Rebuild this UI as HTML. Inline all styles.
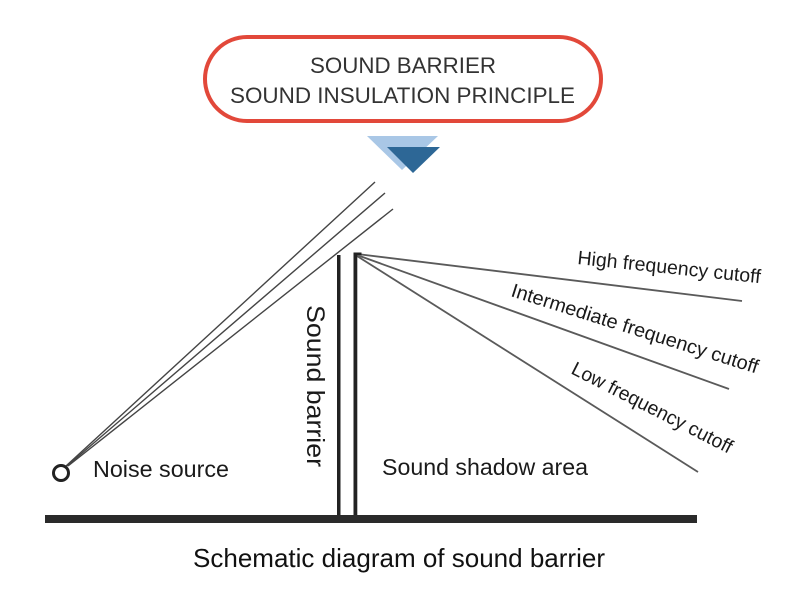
<!DOCTYPE html>
<html>
<head>
<meta charset="utf-8">
<style>
  html,body{margin:0;padding:0;background:#fff;}
  svg{display:block;}
  text{font-family:"Liberation Sans", Arial, sans-serif;}
</style>
</head>
<body>
<svg width="800" height="604" viewBox="0 0 800 604" xmlns="http://www.w3.org/2000/svg">
  <rect x="0" y="0" width="800" height="604" fill="#ffffff"/>

  <!-- Title pill -->
  <rect x="205" y="37" width="396" height="84" rx="42" ry="42" fill="#ffffff" stroke="#e2483a" stroke-width="4"/>
  <text x="403" y="73" font-size="22.3" fill="#333" text-anchor="middle" textLength="186" lengthAdjust="spacingAndGlyphs">SOUND BARRIER</text>
  <text x="402.5" y="103" font-size="22.3" fill="#333" text-anchor="middle" textLength="345" lengthAdjust="spacingAndGlyphs">SOUND INSULATION PRINCIPLE</text>

  <!-- Triangles -->
  <polygon points="367,136 438,136 402,170" fill="#a9c7e6"/>
  <polygon points="387,147 440,147 413,173" fill="#2d6796"/>

  <!-- Incoming sound lines from noise source -->
  <g stroke="#444" stroke-width="1.4" fill="none">
    <line x1="66" y1="466" x2="375" y2="182"/>
    <line x1="67" y1="466" x2="385" y2="193"/>
    <line x1="68" y1="466" x2="393" y2="209"/>
  </g>

  <!-- Noise source circle -->
  <circle cx="61" cy="473" r="7.5" fill="#fff" stroke="#222" stroke-width="3"/>

  <!-- Diffracted lines -->
  <g stroke="#5a5a5a" stroke-width="1.8" fill="none">
    <line x1="357" y1="254" x2="742" y2="301"/>
    <line x1="357" y1="255" x2="729" y2="389"/>
    <line x1="357" y1="256" x2="698" y2="472"/>
  </g>

  <!-- Barrier -->
  <rect x="337" y="255" width="3.5" height="262" fill="#222"/>
  <rect x="353.5" y="253" width="3.8" height="264" fill="#222"/>
  <rect x="353.5" y="252.5" width="8" height="2.5" fill="#222"/>

  <!-- Ground -->
  <rect x="45" y="515" width="652" height="8" fill="#2a2a2a"/>

  <!-- Labels -->
  <text x="93" y="477" font-size="23.5" fill="#1a1a1a" textLength="136" lengthAdjust="spacingAndGlyphs">Noise source</text>
  <text x="382" y="475" font-size="23.5" fill="#1a1a1a" textLength="206" lengthAdjust="spacingAndGlyphs">Sound shadow area</text>
  <text transform="translate(307,305) rotate(90)" x="0" y="0" font-size="25" fill="#1a1a1a" textLength="162" lengthAdjust="spacingAndGlyphs">Sound barrier</text>

  <text transform="translate(577,264) rotate(6)" x="0" y="0" font-size="19.5" fill="#1a1a1a" textLength="184" lengthAdjust="spacingAndGlyphs">High frequency cutoff</text>
  <text transform="translate(510,296) rotate(17.5)" x="0" y="0" font-size="19.5" fill="#1a1a1a" textLength="258" lengthAdjust="spacingAndGlyphs">Intermediate frequency cutoff</text>
  <text transform="translate(570,373) rotate(27)" x="0" y="0" font-size="19.5" fill="#1a1a1a" textLength="178" lengthAdjust="spacingAndGlyphs">Low frequency cutoff</text>

  <!-- Caption -->
  <text x="193" y="567" font-size="26" fill="#111" textLength="412" lengthAdjust="spacingAndGlyphs">Schematic diagram of sound barrier</text>
</svg>
</body>
</html>
